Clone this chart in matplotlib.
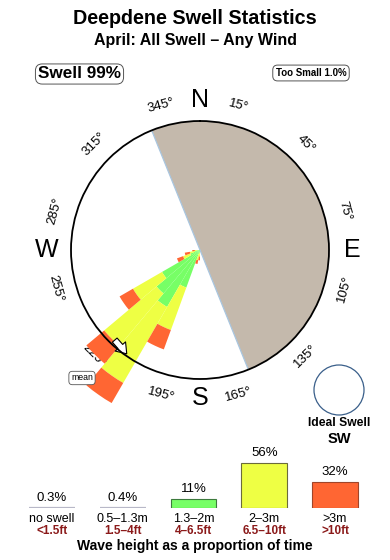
import numpy as np
import matplotlib
matplotlib.use("Agg")
import matplotlib.pyplot as plt
from matplotlib.patches import Circle

plt.rcParams['font.family'] = ['Liberation Sans', 'DejaVu Sans']

# swell rose: direction bins (deg, coming from) and stacked lengths (circle radius = 1)
directions = [185, 195, 205, 215, 225, 235, 245, 255, 265]
green_len = [0.02, 0.03, 0.31, 0.51, 0.44, 0.34, 0.08, 0.04, 0.02]
yellow_len = [0.03, 0.05, 0.35, 0.68, 0.53, 0.26, 0.06, 0.04, 0.02]
orange_len = [0.03, 0.03, 0.16, 0.18, 0.18, 0.12, 0.05, 0.04, 0.02]

land_from, land_to = 338, 158
tick_degs = [15, 45, 75, 105, 135, 165, 195, 225, 255, 285, 315, 345]
mean_tail = (224.7, 0.96)
mean_tip = (214.0, 0.99)

# legend
classes = ['no swell', '0.5\u20131.3m', '1.3\u20132m', '2\u20133m', '>3m']
feet = ['<1.5ft', '1.5\u20134ft', '4\u20136.5ft', '6.5\u201310ft', '>10ft']
pct = [0.3, 0.4, 11, 56, 32]
pct_labels = ['0.3%', '0.4%', '11%', '56%', '32%']

c_green, c_yellow, c_orange = '#77ff66', '#eeff44', '#ff6633'
leg_face = ['#b8b8c8', '#b8b8c8', c_green, c_yellow, c_orange]
leg_edge = ['#b8b8c8', '#b8b8c8', '#3d7a3d', '#6b6b3a', '#a0452a']

W, H = 390, 560
fig = plt.figure(figsize=(W / 100, H / 100), dpi=100)

def fy(y):
    return 1 - y / H

fig.text(0.5, fy(19), 'Deepdene Swell Statistics', ha='center', va='center',
         fontsize=14.2, fontweight='bold')
fig.text(0.5, fy(41), 'April: All Swell \u2013 Any Wind', ha='center', va='center',
         fontsize=11.5, fontweight='bold')
fig.text(38 / W, fy(74), 'Swell 99%', ha='left', va='center', fontsize=12.3, fontweight='bold',
         bbox=dict(boxstyle='round,pad=0.15,rounding_size=0.4', fc='white', ec='#555555', lw=0.7))
fig.text(311 / W, fy(73), 'Too Small 1.0%', ha='center', va='center', fontsize=7,
         fontweight='bold',
         bbox=dict(boxstyle='round,pad=0.3,rounding_size=0.5', fc='white', ec='#555555', lw=0.7))

# polar rose
cx, cy, R = 200, 250, 129
ax = fig.add_axes([(cx - R) / W, (H - cy - R) / H, 2 * R / W, 2 * R / H], projection='polar')
ax.set_theta_zero_location('N')
ax.set_theta_direction(-1)
ax.set_ylim(0, 1)
ax.set_yticks([])
ax.grid(False)
ax.spines['polar'].set_linewidth(1.3)
ax.spines['polar'].set_zorder(5)
ax.xaxis.set_zorder(1)

land_w = (land_to - land_from) % 360
ax.bar(np.deg2rad(land_from + land_w / 2), 1, width=np.deg2rad(land_w), color='#c4b9ac',
       linewidth=0, zorder=0.6)
ax.plot(np.deg2rad([land_from, land_from, land_to, land_to]), [1, 0, 0, 1],
        color='#a9c6e0', lw=0.9, zorder=0.7)

th = np.deg2rad(directions)
wd = np.deg2rad(10)
bottom = np.zeros(len(directions))
for vals, col in [(green_len, c_green), (yellow_len, c_yellow), (orange_len, c_orange)]:
    ax.bar(th, vals, width=wd, bottom=bottom, color=col, linewidth=0, zorder=2, clip_on=False)
    bottom = bottom + np.array(vals)

ax.set_xticks(np.deg2rad(tick_degs))
ax.set_xticklabels([f'{d}\u00b0' for d in tick_degs])
ax.tick_params(axis='x', direction='out', length=4, width=0.8, pad=4, labelsize=9.5,
               labelrotation='auto')

for lab, deg, r in [('N', 0, 1.16), ('E', 90, 1.18), ('S', 180, 1.15), ('W', 270, 1.19)]:
    ax.text(np.deg2rad(deg), r, lab, ha='center', va='center', fontsize=18)

ax.annotate('', xy=(np.deg2rad(mean_tip[0]), mean_tip[1]),
            xytext=(np.deg2rad(mean_tail[0]), mean_tail[1]),
            arrowprops=dict(arrowstyle='simple,head_width=1.0,head_length=0.7,tail_width=0.45',
                            fc='white', ec='black', lw=0.8), zorder=3)
fig.text(82 / W, fy(378), 'mean', ha='center', va='center', fontsize=6.3,
         bbox=dict(boxstyle='round,pad=0.25,rounding_size=0.4', fc='white', ec='#555555', lw=0.6))

# ideal swell circle
fig.add_artist(Circle((339 / 100, (H - 390) / 100), 0.25, transform=fig.dpi_scale_trans,
                      fc='white', ec='#3a5f8a', lw=0.9))
fig.text(339 / W, fy(423), 'Ideal Swell', ha='center', va='center', fontsize=8.7,
         fontweight='bold')
fig.text(339 / W, fy(439), 'SW', ha='center', va='center', fontsize=10.5, fontweight='bold')

# legend bars
lx0, dx = 52, 70.75
lax = fig.add_axes([0, (H - 508) / H, 1, 68 / H])
lax.set_xlim(-lx0 / dx, (W - lx0) / dx)
lax.set_ylim(0, 85)
lax.axis('off')
xs = np.arange(len(classes))
lax.bar(xs, pct, width=0.65, color=leg_face, edgecolor=leg_edge, linewidth=[1.6, 1.6, 0.8, 0.8, 0.8])
for x, p, t in zip(xs, pct, pct_labels):
    lax.annotate(t, (x, p), xytext=(0, 3), textcoords='offset points', ha='center',
                 va='bottom', fontsize=9.5)
for x, c, f in zip(xs, classes, feet):
    fig.text((lx0 + x * dx) / W, fy(519), c, ha='center', va='center', fontsize=9)
    fig.text((lx0 + x * dx) / W, fy(531), f, ha='center', va='center', fontsize=8.5,
             fontweight='bold', color='#8b1a1a')
fig.text(0.5, fy(546), 'Wave height as a proportion of time', ha='center', va='center',
         fontsize=10, fontweight='bold')

fig.savefig('out.png', dpi=100)
